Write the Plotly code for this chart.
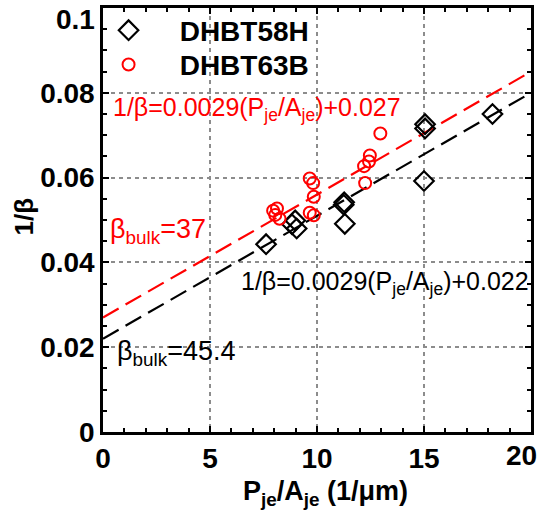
import plotly.graph_objects as go

# DHBT58H (black diamonds)
x58 = [7.62, 8.83, 8.98, 9.05, 11.25, 11.27, 11.3, 15.05, 15.05, 15.0, 18.2]
y58 = [0.0443, 0.0490, 0.0499, 0.0480, 0.0536, 0.0542, 0.0491, 0.0716, 0.0726, 0.0592, 0.0750]

# DHBT63B (red circles)
x63 = [7.95, 8.13, 8.05, 8.25, 9.66, 9.82, 9.85, 9.66, 9.85, 12.25, 12.2, 12.43, 12.47, 12.96]
y63 = [0.0522, 0.0527, 0.0512, 0.0503, 0.0598, 0.0587, 0.0555, 0.0517, 0.0511,
       0.0587, 0.0627, 0.0638, 0.0652, 0.0704]

# fit lines 1/beta = slope * x + intercept
fit_x = [0, 20]
slope58, icpt58 = 0.0029, 0.022
slope63, icpt63 = 0.0029, 0.027

x_ticks = [0, 5, 10, 15, 20]
x_ticklabels = ["0", "5", "10", "15", ""]
y_ticks = [0, 0.02, 0.04, 0.06, 0.08, 0.1]
y_ticklabels = ["0", "0.02", "0.04", "0.06", "0.08", ""]

FONT = "Liberation Sans, Arial, sans-serif"
TICKFONT = dict(family=FONT, size=28, color="black", weight="bold")
LEGFONT = dict(family=FONT, size=28, color="black", weight="bold")

fig = go.Figure()
fig.add_trace(go.Scatter(x=fit_x, y=[slope58 * v + icpt58 for v in fit_x], mode="lines",
                         line=dict(color="black", width=2.2, dash="18px,8px"), showlegend=False))
fig.add_trace(go.Scatter(x=fit_x, y=[slope63 * v + icpt63 for v in fit_x], mode="lines",
                         line=dict(color="red", width=2.2, dash="18px,8px"), showlegend=False))
fig.add_trace(go.Scatter(x=x58, y=y58, mode="markers", name="\u00a0\u00a0\u00a0\u00a0DHBT58H",
                         legend="legend",
                         marker=dict(symbol="diamond-open", size=15, color="black",
                                     line=dict(width=2.2, color="black"))))
fig.add_trace(go.Scatter(x=x63, y=y63, mode="markers", name="\u00a0\u00a0\u00a0\u00a0DHBT63B",
                         legend="legend2",
                         marker=dict(symbol="circle-open", size=12, color="red",
                                     line=dict(width=2, color="red"))))

axis_common = dict(
    showline=True, linecolor="black", linewidth=2.5, mirror="allticks",
    ticks="inside", ticklen=6, tickwidth=1.5, tickcolor="black",
    showgrid=True, gridcolor="#8c8c8c", gridwidth=1.5, griddash="4px,4px",
    zeroline=False,
    tickfont=TICKFONT,
)

fig.update_xaxes(range=[0, 20], tickvals=x_ticks, ticktext=x_ticklabels,
                 minor=dict(dtick=1, ticks="inside", ticklen=4, tickcolor="black", showgrid=False),
                 **axis_common)
fig.update_yaxes(range=[0, 0.1], tickvals=y_ticks, ticktext=y_ticklabels,
                 minor=dict(dtick=0.005, ticks="inside", ticklen=4, tickcolor="black", showgrid=False),
                 **axis_common)

annots = [
    dict(x=0.39, y=0.0762, xref="x", yref="y", xanchor="left", yanchor="middle",
         text="1/β=0.0029(P<sub>je</sub>/A<sub>je</sub>)+0.027",
         font=dict(family=FONT, size=25, color="red")),
    dict(x=0.24, y=0.0475, xref="x", yref="y", xanchor="left", yanchor="middle",
         text="β<sub>bulk</sub>=37", font=dict(family=FONT, size=27, color="red")),
    dict(x=1.0, y=0.0352, xref="paper", yref="y", xanchor="right", yanchor="middle",
         text="1/β=0.0029(P<sub>je</sub>/A<sub>je</sub>)+0.022",
         font=dict(family=FONT, size=25, color="black")),
    dict(x=0.55, y=0.0186, xref="x", yref="y", xanchor="left", yanchor="middle",
         text="β<sub>bulk</sub>=45.4", font=dict(family=FONT, size=27, color="black")),
    # axis titles
    dict(x=-0.184, y=0.509, xref="paper", yref="paper", xanchor="center", yanchor="middle",
         text="<b>1/β</b>", textangle=-90, font=dict(family=FONT, size=26, color="black")),
    dict(x=0.52, y=-0.143, xref="paper", yref="paper", xanchor="center", yanchor="middle",
         text="<b>P<sub>je</sub>/A<sub>je</sub> (1/μm)</b>", font=dict(family=FONT, size=27, color="black")),
    # edge tick labels nudged inside the page, as in the reference
    dict(x=0, y=0.974, xref="paper", yref="paper", xanchor="right", yanchor="middle", xshift=-6,
         text="<b>0.1</b>", font=TICKFONT),
    dict(x=0.977, y=-0.056, xref="paper", yref="paper", xanchor="center", yanchor="middle",
         text="<b>20</b>", font=TICKFONT),
]
for a in annots:
    a["showarrow"] = False
    fig.add_annotation(**a)

fig.update_layout(
    width=538, height=516,
    margin=dict(l=103, r=7, t=5, b=84),
    paper_bgcolor="white", plot_bgcolor="white",
    legend=dict(x=0.013, y=0.947, xanchor="left", yanchor="middle", bgcolor="rgba(0,0,0,0)",
                font=LEGFONT, itemwidth=30),
    legend2=dict(x=0.013, y=0.866, xanchor="left", yanchor="middle", bgcolor="rgba(0,0,0,0)",
                 font=LEGFONT, itemwidth=30),
)

fig.write_html("out.html", config={"displayModeBar": False},
               post_script="document.body.style.margin='0px';")
